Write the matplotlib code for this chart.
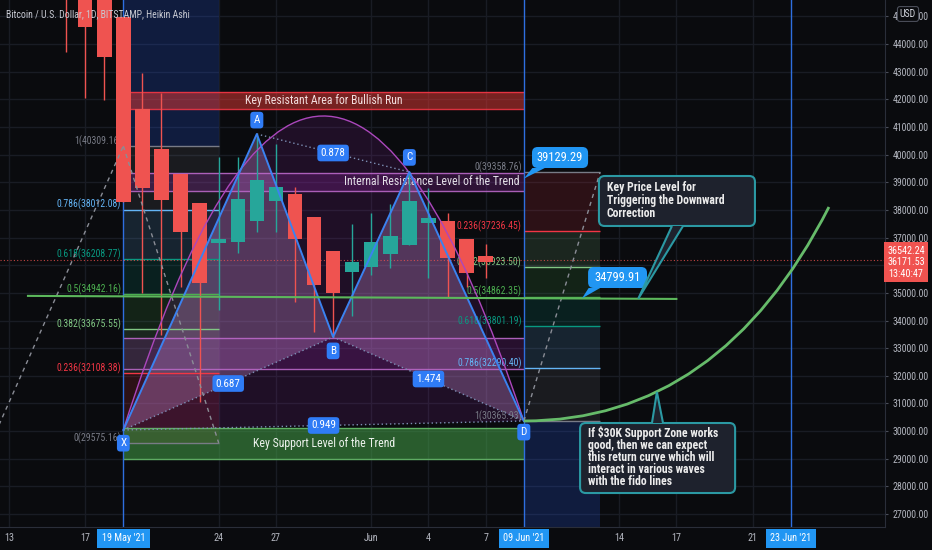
import numpy as np
import matplotlib
matplotlib.use('Agg')
import matplotlib.pyplot as plt
import matplotlib.dates as mdates
from matplotlib import font_manager
from matplotlib.patches import Rectangle, Polygon, FancyBboxPatch, PathPatch
from matplotlib.path import Path

names = {f.name for f in font_manager.fontManager.ttflist}
FONT = next((f for f in ['Roboto Condensed', 'Archivo Narrow', 'Liberation Sans Narrow']
             if f in names), 'Liberation Sans')
plt.rcParams['font.family'] = [FONT, 'DejaVu Sans']

# Heikin Ashi candles (BITSTAMP BTCUSD, 1D)
dates = ['2021-05-16', '2021-05-17', '2021-05-18', '2021-05-19', '2021-05-20', '2021-05-21',
         '2021-05-22', '2021-05-23', '2021-05-24', '2021-05-25', '2021-05-26', '2021-05-27',
         '2021-05-28', '2021-05-29', '2021-05-30', '2021-05-31', '2021-06-01', '2021-06-02',
         '2021-06-03', '2021-06-04', '2021-06-05', '2021-06-06', '2021-06-07']
ha_open = [46900, 46650, 45632, 44976, 41649, 40203, 39298, 38250, 36803, 36839, 37599, 38322,
           38575, 37743, 36514, 35754, 35935, 36405, 36731, 37526, 37598, 36948, 36333]
ha_high = [47500, 46900, 45632, 44976, 42951, 42228, 39298, 38250, 39913, 39913, 40745, 40383,
           38828, 37743, 36514, 37490, 37888, 38213, 39371, 38792, 37888, 36948, 36767]
ha_low = [43711, 42047, 41975, 38286, 34995, 33476, 35212, 31052, 34380, 36441, 37201, 37201,
          34669, 33584, 33403, 34163, 35646, 35899, 36731, 35537, 34850, 35212, 35537]
ha_close = [46000, 44615, 43530, 38286, 38792, 38358, 37201, 35356, 36948, 38394, 39081, 38828,
            36948, 35284, 34995, 36116, 36839, 37056, 38322, 37707, 36260, 35718, 36116]

last_price = 36542.24
ha_last = 36171.53
countdown = '13:40:47'

# fibonacci retracements
fib_ratios = [0, 0.236, 0.382, 0.5, 0.618, 0.786, 1]
fib_colors = ['#787b86', '#f23645', '#81c784', '#4caf50', '#089981', '#64b5f6', '#787b86']
fib_left = [29575.16, 32108.38, 33675.55, 34942.16, 36208.77, 38012.08, 40309.16]
fib_left_span = ('2021-05-19', '2021-05-24')
fib_right = [39358.76, 37236.45, 35923.50, 34862.35, 33801.19, 32290.40, 30365.93]
fib_right_span = ('2021-06-09', '2021-06-13')

# XABCD pattern
pat_names = ['X', 'A', 'B', 'C', 'D']
pat_dates = ['2021-05-19', '2021-05-26', '2021-05-30', '2021-06-03', '2021-06-09']
pat_prices = [30040, 40745, 33403, 39371, 30365.93]
pat_ratios = ['0.687', '0.878', '1.474', '0.949']   # XB, AC, BD, XD

# zones
zone_span = ('2021-05-19', '2021-06-09')
resist_zone = (41649, 42264)
internal_zone = (38684, 39335)
b_zone = (32246, 33367)
support_zone = (28991, 30112)

# green trend line and curves
trend_dates = ['2021-05-14', '2021-06-17']
trend_prices = [34890, 34780]
arc_dates = ['2021-05-19', '2021-05-29 08:00', '2021-06-09']
arc_prices = [30040, 52590, 30365.93]
curve_dates = ['2021-06-09', '2021-06-19 07:00', '2021-06-25']
curve_prices = [30365.93, 30365.93, 38105]

markers = ['2021-05-19', '2021-06-09', '2021-06-23']
marker_labels = ["19 May '21", "09 Jun '21", "23 Jun '21"]
xtick_dates = ['2021-05-13', '2021-05-17', '2021-05-24', '2021-05-27', '2021-06-01',
               '2021-06-04', '2021-06-07', '2021-06-14', '2021-06-17', '2021-06-21']
xtick_labels = ['13', '17', '24', '27', 'Jun', '4', '7', '14', '17', '21']
yticks = np.arange(27000, 45001, 1000)

BG = '#0a0b0e'
BLUE = '#2f7cf6'
RED = '#ef5350'
GREEN = '#26a69a'

d2n = mdates.datestr2num
t0 = d2n('2021-05-13')

fig = plt.figure(figsize=(9.32, 5.5), dpi=100, facecolor=BG)
ax = fig.add_axes([0, 23 / 550, 885 / 932, 527 / 550])
ax.set_facecolor(BG)
ax.set_xlim(t0 - 0.467, t0 + 45.94)
ax.set_ylim(26532, 45591)

# axes / grid
ax.set_xticks(d2n(xtick_dates), xtick_labels)
ax.set_yticks(yticks, [f'{v:.2f}' for v in yticks])
ax.yaxis.tick_right()
ax.tick_params(axis='x', length=0, pad=4, labelsize=7.3, colors='#b2b5be')
ax.tick_params(axis='y', length=2, pad=3.5, labelsize=7.1, colors='#b2b5be', color='#4a4e59')
ax.grid(True, color='#191c24', lw=1)
ax.set_axisbelow(True)
for s in ['top', 'left']:
    ax.spines[s].set_visible(False)
for s in ['right', 'bottom']:
    ax.spines[s].set_color('#2a2e39')

xl, xr = ax.get_xlim()
yb, yt = ax.get_ylim()
aspect = ((yt - yb) / 527) / ((xr - xl) / 885)


def fib(span, prices, ext_top):
    xa, xb = d2n(span[0]), d2n(span[1])
    for i in range(1, len(prices)):
        ax.fill_between([xa, xb], prices[i - 1], prices[i], color=fib_colors[i], alpha=0.15,
                        lw=0, zorder=1)
    ax.fill_between([xa, xb], prices[-1], yt if ext_top else yb, color='#2962ff', alpha=0.2,
                    lw=0, zorder=1)
    ax.hlines(prices, xa, xb, colors=fib_colors, lw=1, zorder=2)
    for r, p, c in zip(fib_ratios, prices, fib_colors):
        ax.annotate(f'{r:g}({p:.2f})', (xa, p), xytext=(-1.5, 3.6), textcoords='offset points',
                    ha='right', va='center', color=c, fontsize=7, zorder=2.2)


fib(fib_left_span, fib_left, True)
fib(fib_right_span, fib_right, False)

# dashed fib trend lines
ax.plot([t0 - 0.94, d2n('2021-05-19')], [fib_left[0], fib_left[-1]], color='#8a8d96',
        lw=1, dashes=(3, 3), zorder=3.6)
ax.plot([d2n('2021-05-19'), d2n('2021-05-24')], [fib_left[-1], fib_left[0]], color='#8a8d96',
        lw=1, dashes=(3, 3), zorder=3.6)
ax.plot([d2n('2021-06-09'), d2n('2021-06-13')], [fib_right[-1], fib_right[0]], color='#8a8d96',
        lw=1, dashes=(3, 3), zorder=3.6)

# zones
za, zb = d2n(zone_span[0]), d2n(zone_span[1])
for (lo, hi), fc, ec, al in [(resist_zone, '#e53935', '#f23645', 0.5),
                             (internal_zone, '#9c27b0', '#ba68c8', 0.25),
                             (b_zone, '#9c27b0', '#ba68c8', 0.2),
                             (support_zone, '#43a047', '#66bb6a', 0.55)]:
    ax.add_patch(Rectangle((za, lo), zb - za, hi - lo, fc=fc, alpha=al, lw=0, zorder=1.5))
    ax.hlines([lo, hi], za, zb, colors=ec, lw=1, alpha=0.9, zorder=2)
ax.text((za + zb) / 2, np.mean(resist_zone), 'Key Resistant Area for Bullish Run',
        ha='center', va='center', color='#f3dede', fontsize=8.5, zorder=2.3)
ax.annotate('Internal Resistance Level of the Trend', (zb, np.mean(internal_zone)),
            xytext=(-3, 0), textcoords='offset points', ha='right', va='center',
            color='#e4e0e8', fontsize=8.5, zorder=2.3)
ax.text((za + zb) / 2, np.mean(support_zone), 'Key Support Level of the Trend',
        ha='center', va='center', color='#eef3ee', fontsize=8.5, zorder=2.3)

# arc
arc_pts = list(zip(d2n(arc_dates), arc_prices))
ax.add_patch(PathPatch(Path(arc_pts + [arc_pts[0], arc_pts[0]],
                            [Path.MOVETO, Path.CURVE3, Path.CURVE3, Path.LINETO, Path.CLOSEPOLY]),
                       fc='#9c27b0', alpha=0.15, lw=0, zorder=1.6))
ax.add_patch(PathPatch(Path(arc_pts, [Path.MOVETO, Path.CURVE3, Path.CURVE3]),
                       fill=False, ec='#ab47bc', lw=1, zorder=3.5))

# pattern
px = d2n(pat_dates)
pp = np.array(pat_prices)
for tri in [(0, 1, 2), (2, 3, 4)]:
    ax.add_patch(Polygon([(px[i], pp[i]) for i in tri], closed=True, fc='#ce93d8', alpha=0.3,
                         lw=0, zorder=1.7))
for a, b in [(0, 2), (1, 3), (2, 4), (0, 4)]:
    ax.plot([px[a], px[b]], [pp[a], pp[b]], color='#7d8fb5', lw=1, ls=(0, (1, 2)), zorder=3.5)
ax.plot(px, pp, color='#3b82f0', lw=1.4, zorder=3.7)

# vertical markers and last price line
for m in markers:
    ax.axvline(d2n(m), color='#2e6fe0', lw=1, zorder=2.5)
ax.axhline(ha_last, color=RED, lw=0.8, ls=(0, (1, 2)), alpha=0.8, zorder=2.6)

# candles
xc = d2n(dates)
o, h, l, c = map(np.array, (ha_open, ha_high, ha_low, ha_close))
cols = np.where(c >= o, GREEN, RED)
ax.vlines(xc, l, h, colors=cols, lw=1, zorder=2.9)
ax.bar(xc, np.abs(c - o), bottom=np.minimum(o, c), width=0.76, color=cols, lw=0, zorder=3)

# green line and return curve
ax.plot(d2n(trend_dates), trend_prices, color='#5cb85c', lw=1.5, zorder=4)
curve_pts = list(zip(d2n(curve_dates), curve_prices))
ax.add_patch(PathPatch(Path(curve_pts, [Path.MOVETO, Path.CURVE3, Path.CURVE3]),
                       fill=False, ec='#66bb6a', lw=2, zorder=4))

# pattern labels
offs = {'X': -9.5, 'A': 10, 'B': -10, 'C': 10.5, 'D': -8}
for n, x, y in zip(pat_names, px, pp):
    ax.annotate(n, (x, y), xytext=(0, offs[n]), textcoords='offset points', ha='center',
                va='center', color='white', fontsize=8, zorder=6,
                bbox=dict(boxstyle='round,pad=0.3,rounding_size=0.3', fc=BLUE, ec='none'))
for (a, b), t in zip([(0, 2), (1, 3), (2, 4), (0, 4)], pat_ratios):
    ax.text((px[a] + px[b]) / 2, (pp[a] + pp[b]) / 2, t, ha='center', va='center',
            color='white', fontsize=8, zorder=6,
            bbox=dict(boxstyle='round,pad=0.3,rounding_size=0.3', fc=BLUE, ec='none'))


def callout(box_x, box_y, base_x, base_y, tip, fc, ec, lw):
    x0, x1 = t0 + box_x[0], t0 + box_x[1]
    ax.add_patch(FancyBboxPatch((x0, box_y[0]), x1 - x0, box_y[1] - box_y[0],
                                boxstyle='round,pad=0,rounding_size=0.3', mutation_aspect=aspect,
                                fc=fc, ec=ec, lw=lw, zorder=6))
    ax.add_patch(Polygon([(t0 + base_x[0], base_y), (t0 + tip[0], tip[1]),
                          (t0 + base_x[1], base_y)], closed=False, fc=fc, ec=ec, lw=lw,
                         zorder=6.1))


# price callouts
callout((27.43, 30.37), (39515, 40275), (27.45, 28.1), 39515, (27.0, 39129.29), '#2196f3',
        'none', 0)
ax.text(t0 + 28.9, 39895, '39129.29', ha='center', va='center', color='white', fontsize=9,
        zorder=7)
callout((30.37, 33.46), (35175, 35935), (30.4, 31.0), 35175, (30.05, 34799.91), '#2196f3',
        'none', 0)
ax.text(t0 + 31.9, 35555, '34799.91', ha='center', va='center', color='white', fontsize=9,
        zorder=7)

# text callouts
callout((30.94, 39.12), (37418, 39226), (34.77, 35.35), 37418, (33.0, 34786), '#1e222d',
        '#2b99a3', 1.5)
ax.text(t0 + 31.36, 38340, 'Key Price Level for\nTriggering the Downward\nCorrection',
        ha='left', va='center', color='#ececec', fontsize=8.5, weight='bold', linespacing=0.98,
        zorder=7)
callout((29.95, 38.08), (27761, 30293), (33.72, 34.3), 30293, (33.98, 31414), '#1e222d',
        '#2b99a3', 1.5)
ax.text(t0 + 30.37, 29046, 'If $30K Support Zone works\ngood, then we can expect\n'
        'this return curve which will\ninteract in various waves\nwith the fido lines',
        ha='left', va='center', color='#ececec', fontsize=8.5, weight='bold', linespacing=0.9,
        zorder=7)

# axis labels on the scales
for m, t in zip(markers, marker_labels):
    ax.text(d2n(m), -0.021, t, transform=ax.get_xaxis_transform(), ha='center', va='center',
            color='white', fontsize=7.3, clip_on=False, zorder=8,
            bbox=dict(boxstyle='square,pad=0.45', fc='#2196f3', ec='none'))
ax.text(1 + 21 / 885, ha_last - 60, f'{last_price:.2f}\n{ha_last:.2f}\n{countdown}',
        transform=ax.get_yaxis_transform(), ha='center', va='center', color='white',
        fontsize=7.3, linespacing=1.2, clip_on=False, zorder=8,
        bbox=dict(boxstyle='square,pad=0.3', fc='#f05350', ec='none'))
fig.text(908 / 932, 1 - 14 / 550, 'USD', ha='center', va='center', fontsize=7,
         color='#d1d4dc', bbox=dict(boxstyle='round,pad=0.25', fc=BG, ec='#4a4e59', lw=0.8))
ax.text(6 / 885, 1 - 14 / 527, 'Bitcoin / U.S. Dollar, 1D, BITSTAMP, Heikin Ashi',
        transform=ax.transAxes, ha='left', va='center', color='#c8cad2', fontsize=7, zorder=10)

fig.savefig('out.png', dpi=100, facecolor=BG)
